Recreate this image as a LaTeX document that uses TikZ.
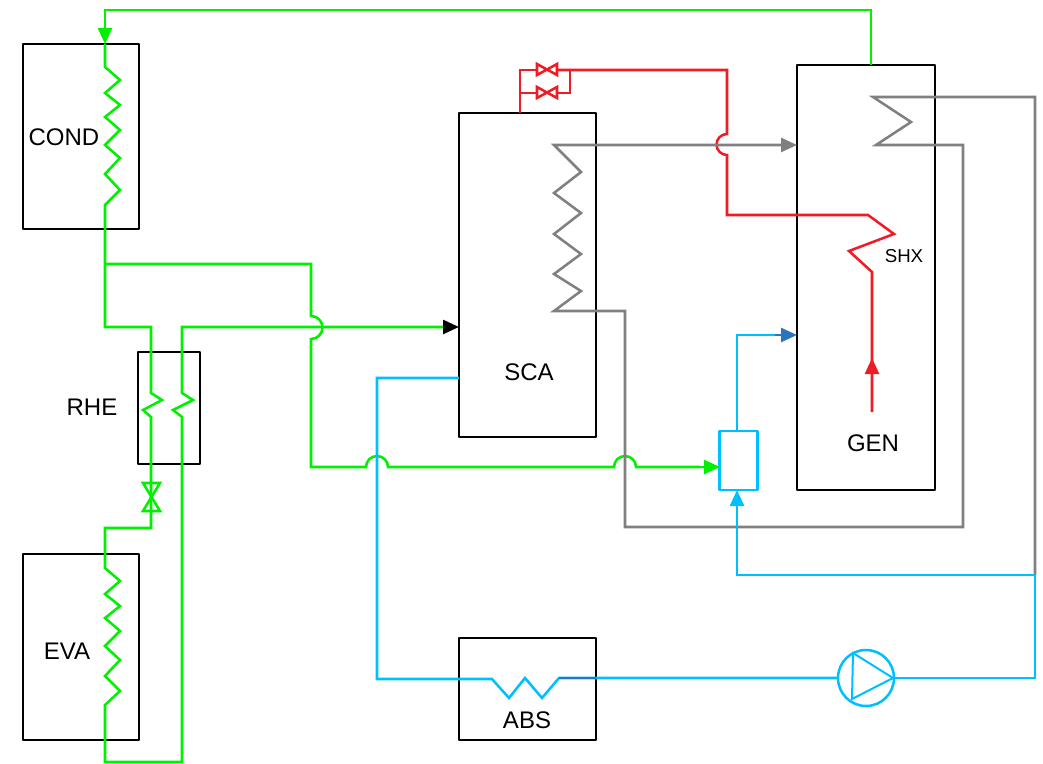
\documentclass[tikz,border=0pt]{standalone}
\usepackage{fontspec}
\setmainfont{Liberation Sans}
\usetikzlibrary{arrows.meta,positioning}
\definecolor{pipegreen}{RGB}{0,240,0}
\definecolor{pipered}{RGB}{238,28,37}
\definecolor{pipeblue}{RGB}{0,191,255}
\definecolor{pipegray}{RGB}{128,128,128}
\definecolor{tipblue}{RGB}{42,117,187}
\tikzset{
    unit/.style={draw=black,line width=1.9pt,inner sep=0pt,line join=round},
    tag/.style={font=\fontsize{18}{20}\selectfont,inner sep=0pt},
    pipe/.style={line width=1.9pt,line join=miter},
    tip/.style={-{Triangle[length=12pt,width=10.5pt]}},
    valvebody/.style={line width=1.9pt,line join=miter}
}
\newcommand{\valveh}[3]{\draw [valvebody,#3] (#1-10,#2-6) -- (#1+10,#2+5) -- (#1+10,#2-6) -- (#1-10,#2+5) -- cycle;}
\begin{document}
\begin{tikzpicture}[x=0.75pt,y=-0.75pt]
        \useasboundingbox (0,0) rectangle (1043,764);
        % vessels
        \node [unit,minimum width=87pt,minimum height=138.75pt] (COND) at (81,136.5) {};
        \node [unit,minimum width=87pt,minimum height=139.5pt] (EVA) at (81,647) {};
        \node [unit,minimum width=46.5pt,minimum height=84pt] (RHE) at (169,408) {};
        \node [unit,minimum width=102.75pt,minimum height=243pt] (SCA) at (527.5,275) {};
        \node [unit,minimum width=103.5pt,minimum height=318.75pt] (GEN) at (866,277.5) {};
        \node [unit,minimum width=102.75pt,minimum height=76.5pt] (ABS) at (527.5,689) {};
        \node [unit,draw=pipeblue,minimum width=28.5pt,minimum height=44.25pt] (MIX) at (738.5,460.5) {};
        \node [unit,draw=pipeblue,circle,minimum size=42pt] (PUMP) at (866,678) {};
        % labels
        \node [tag] (condlabel) at (64,137) {COND};
        \node [tag] (evalabel) at (67,651) {EVA};
        \node [tag] (rhelabel) at (92,407) {RHE};
        \node [tag] (scalabel) at (529,372) {SCA};
        \node [tag] (genlabel) at (873,443) {GEN};
        \node [tag] (abslabel) at (527,720) {ABS};
        \node [tag,font=\fontsize{14}{16}\selectfont] (shxlabel) at (904,256) {SHX};
        % free ends
        \coordinate (gentop) at (871,65);
        \coordinate (condin) at (105,44);
        \coordinate (scain) at (459,327);
        \coordinate (mixin) at (720,467);
        \coordinate (scatop) at (520,113);
        \coordinate (genport) at (797,145);
        \coordinate (genfeed) at (797,335);
        \coordinate (scaout) at (459,378);
        \coordinate (mixbot) at (737,490);
        \coordinate (mixtop) at (737,431);
        \coordinate (pumpin) at (838,678);
        \coordinate (pumpout) at (894,678);
        \coordinate (tee) at (1035,575);
        % green
        \draw [pipe,pipegreen] (gentop) -- (871,10) -- (105,10) -- (105,30);
        \draw [pipe,pipegreen,tip] (105,24) -- (condin);
        \draw [pipe,pipegreen] (condin) -- (105,67) -- (120,80) -- (105,93) -- (120,105) -- (105,117) -- (120,130) -- (105,145) -- (120,158) -- (105,174) -- (120,190) -- (105,205) -- (105,327) -- (151,327) -- (151,393) -- (162,400) -- (143,410) -- (151,417) -- (151,528) -- (105,528) -- (105,568) -- (120,581) -- (105,594) -- (120,606) -- (105,618) -- (120,631) -- (105,646) -- (120,660) -- (105,676) -- (120,691) -- (105,705) -- (105,762) -- (182,762) -- (182,417) -- (173,410) -- (193,400) -- (182,393) -- (182,327) -- (445,327);
        \draw [pipe,pipegreen] (105,264) -- (311,264) -- (311,316) arc [start angle=-90,end angle=90,radius=11.5] -- (311,467) -- (366,467) arc [start angle=180,end angle=360,radius=11] -- (614,467) arc [start angle=180,end angle=360,radius=11] -- (700,467);
        \draw [pipe,black,tip] (445,327) -- (scain);
        \draw [pipe,pipegreen,tip] (695,467) -- (mixin);
        \draw [valvebody,pipegreen] (143,483) -- (160,483) -- (143,511) -- (160,511) -- cycle;
        % red
        \draw [pipe,pipered] (scatop) -- (520,70) -- (537,70);
        \draw [pipe,pipered] (557,70) -- (727,70) -- (727,134) arc [start angle=-90,end angle=-270,radius=10.5] -- (727,215) -- (868,215) -- (894,234) -- (849,251) -- (872,272) -- (872,412);
        \draw [pipe,pipered] (520,93) -- (537,93);
        \draw [pipe,pipered] (557,93) -- (570,93) -- (570,70);
        \valveh{547}{70}{pipered}
        \valveh{547}{93}{pipered}
        \draw [pipe,pipered,tip] (872,385) -- (872,358);
        % gray
        \draw [pipe,pipegray] (785,145) -- (554,145) -- (581,172) -- (554,193) -- (581,213) -- (554,234) -- (581,254) -- (554,274) -- (581,291) -- (554,311) -- (625,311) -- (625,527) -- (963,527) -- (963,145) -- (876,145) -- (911,122) -- (873,97) -- (1035,97) -- (tee);
        \draw [pipe,pipegray,tip] (775,145) -- (genport);
        % blue
        \draw [pipe,pipeblue] (scaout) -- (377,378) -- (377,679) -- (492,679) -- (509,698) -- (525,678) -- (542,698) -- (559,678) -- (pumpin);
        \draw [pipe,tipblue,line width=1pt] (559,678) -- (596,678);
        \draw [pipe,pipeblue] (pumpout) -- (1035,678) -- (tee) -- (737,575) -- (737,505);
        \draw [pipe,pipeblue,tip] (737,515) -- (mixbot);
        \draw [pipe,pipeblue] (mixtop) -- (737,335) -- (780,335);
        \draw [pipe,tipblue,tip] (775,335) -- (genfeed);
        \draw [pipe,pipeblue,line width=1.5pt] (853,653) -- (893,678) -- (852,699) -- cycle;
\end{tikzpicture}
\end{document}
